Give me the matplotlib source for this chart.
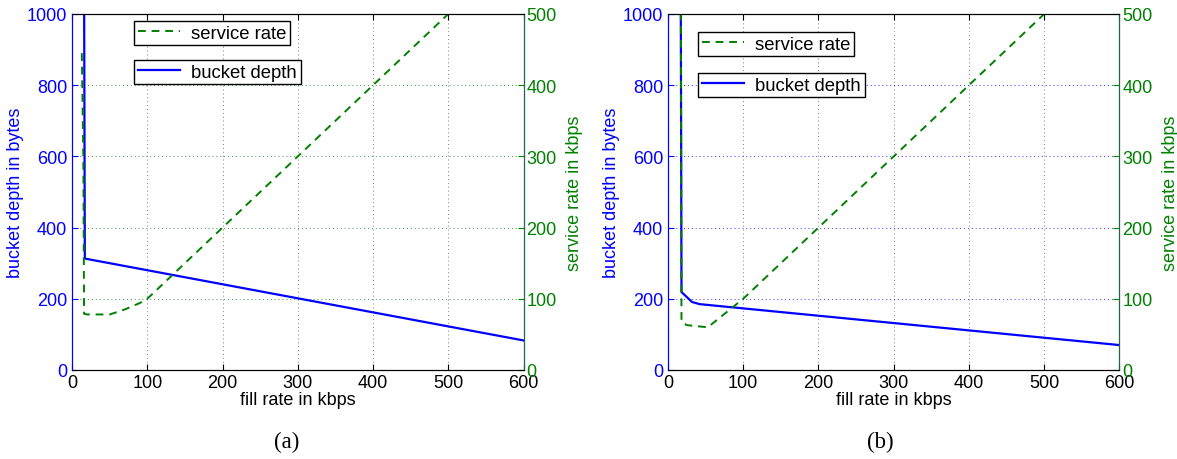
import numpy as np
import matplotlib
matplotlib.use("Agg")
import matplotlib.pyplot as plt
from matplotlib.lines import Line2D

plt.rcParams['font.family'] = ['Liberation Sans', 'DejaVu Sans']

# panel (a)
fill_a = [16, 17, 600]
depth_a = [1100, 313, 83]
svc_fill_a = [13, 15, 16, 20, 50, 70, 90, 100, 500, 600]
svc_rate_a = [445, 300, 79, 78, 78, 85, 94, 100, 500, 600]

# panel (b)
fill_b = [17, 18, 32, 42, 600]
depth_b = [1100, 219, 191, 185, 70]
svc_fill_b = [17, 18, 25, 53, 100, 500, 600]
svc_rate_b = [600, 68, 63, 60, 100, 500, 600]

x_ticks = [0, 100, 200, 300, 400, 500, 600]
left_ticks = [0, 200, 400, 600, 800, 1000]
right_ticks = [0, 100, 200, 300, 400, 500]

BLUE = '#0000ff'
GREEN = '#008000'

fig = plt.figure(figsize=(11.77, 4.6), dpi=100)

panels = [
    (0.0612, fill_a, depth_a, svc_fill_a, svc_rate_a, '(a)', GREEN,
     [(134, 22), (134, 61)], 287),
    (0.5675, fill_b, depth_b, svc_fill_b, svc_rate_b, '(b)', BLUE,
     [(698, 33), (698, 74)], 880),
]

W, H = 1177, 460
for left, fx, dep, sx, sr, cap, hgrid, legpos, capx in panels:
    ax = fig.add_axes([left, 0.1935, 0.3836, 0.7739])
    ax2 = ax.twinx()
    ax.plot(fx, dep, color=BLUE, lw=1.6, zorder=3)
    ax2.plot(sx, sr, color=GREEN, lw=1.4, ls=(0, (4, 3)))
    ax.set_xlim(0, 600)
    ax.set_ylim(0, 1000)
    ax2.set_ylim(0, 500)
    ax.set_xticks(x_ticks)
    ax.set_yticks(left_ticks)
    ax2.set_yticks(right_ticks)
    for x in x_ticks[1:-1]:
        ax.axvline(x, color='#808080', ls=(0, (1, 3)), lw=0.7, zorder=1)
    for y in left_ticks[1:-1]:
        ax.axhline(y, color=hgrid, ls=(0, (1, 3)), lw=0.7, zorder=1, alpha=0.8)
    ax.tick_params(axis='both', direction='in', length=4, labelsize=13)
    ax.tick_params(axis='y', colors=BLUE, labelcolor=BLUE)
    ax.tick_params(axis='x', colors='black', top=True, pad=3)
    ax2.tick_params(axis='y', direction='in', length=4, labelsize=13,
                    colors=GREEN, labelcolor=GREEN, pad=2)
    ax.spines['left'].set_color(BLUE)
    ax2.spines['left'].set_color(BLUE)
    ax2.spines['right'].set_color('#1a6a50')
    ax.set_xlabel('fill rate in kbps', fontsize=13, labelpad=0)
    ax.set_ylabel('bucket depth in bytes', fontsize=13, color=BLUE, labelpad=2)
    ax2.set_ylabel('service rate in kbps', fontsize=13, color=GREEN, labelpad=7)
    fig.text(capx / W, 1 - 442 / H, cap, ha='center', va='center',
             fontsize=16.5, family='Liberation Serif')

    handles = [Line2D([], [], color=GREEN, lw=1.4, ls=(0, (4, 3))),
               Line2D([], [], color=BLUE, lw=1.6)]
    labels = ['service rate', 'bucket depth']
    for h, l, (px, py) in zip(handles, labels, legpos):
        lg = fig.legend([h], [l], loc='upper left',
                        bbox_to_anchor=(px / W, 1 - py / H),
                        fancybox=False, edgecolor='black', framealpha=1,
                        fontsize=13.3, borderpad=0.2, handlelength=2.3,
                        borderaxespad=0, handletextpad=0.6)
        lg.get_frame().set_linewidth(1.0)

fig.savefig('out.png', dpi=100)
